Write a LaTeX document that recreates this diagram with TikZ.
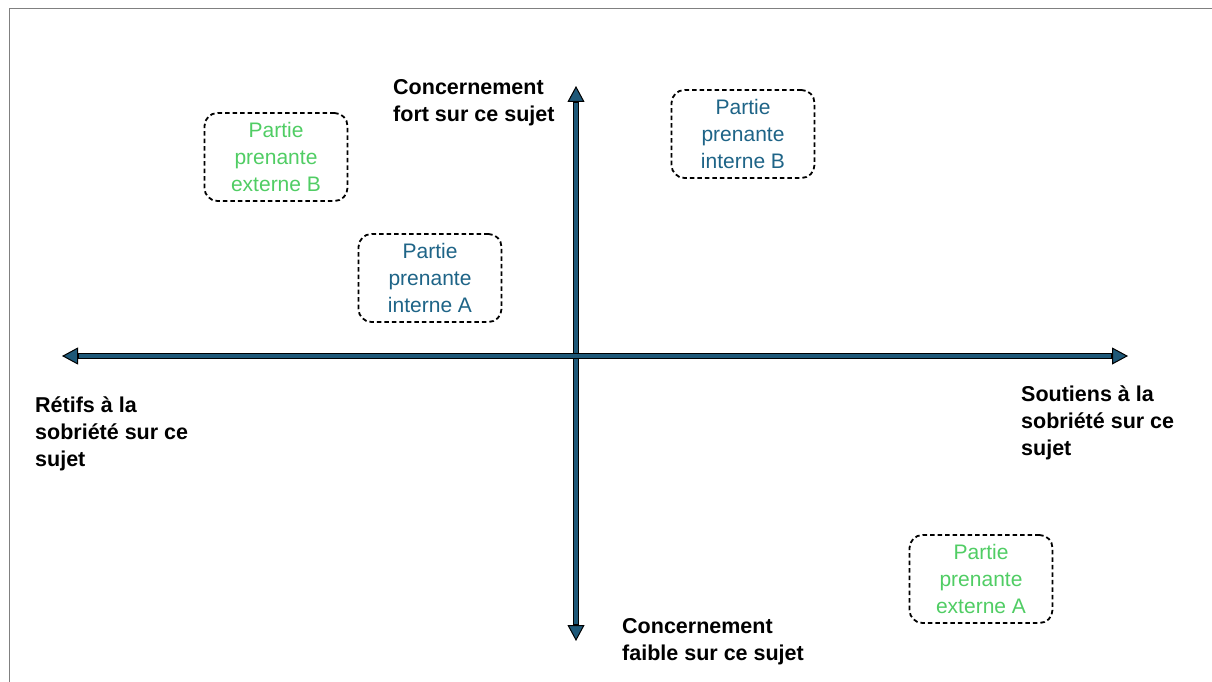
\documentclass[tikz,border=0pt]{standalone}
\usepackage{fontspec}
\setmainfont{Liberation Sans}
\usetikzlibrary{arrows.meta}
\definecolor{axisblue}{RGB}{30,88,120}
\definecolor{intblue}{RGB}{30,100,135}
\definecolor{extgreen}{RGB}{80,205,100}
\definecolor{framegrey}{RGB}{128,128,128}
\tikzset{
  party/.style={draw=black, dashed, dash pattern=on 4.5pt off 3pt, line width=1.8pt,
    rounded corners=13pt, minimum width=143pt, minimum height=88pt,
    align=center, inner sep=0pt, font={\fontsize{21}{27}\selectfont}},
  axislabel/.style={align=left, inner sep=0pt, anchor=west,
    font={\fontsize{21.5}{27}\selectfont\bfseries}},
  axisouter/.style={black, line width=6.5pt,
    {Triangle[length=16pt, width=17pt, line width=1pt, fill=axisblue]}-{Triangle[length=16pt, width=17pt, line width=1pt, fill=axisblue]}},
  axisinner/.style={axisblue, line width=4pt, shorten <=17pt, shorten >=17pt}
}
\begin{document}
\begin{tikzpicture}[x=1pt, y=-1pt]
\useasboundingbox (0,0) rectangle (1212,682);
\fill[white] (0,0) rectangle (1212,682);
% slide frame
\draw[framegrey, line width=1pt] (9,682) -- (9,9) -- (1212,9);
% axes coordinates
\coordinate (top) at (576,86);
\coordinate (bottom) at (576,641);
\coordinate (left) at (62,356);
\coordinate (right) at (1128,356);
\draw[axisouter] (top) -- (bottom);
\draw[axisinner] (top) -- (bottom);
\draw[axisouter] (left) -- (right);
\draw[axisinner] (left) -- (right);
% axis labels
\node[axislabel] (hi) at (393,103) {Concernement\\fort sur ce sujet};
\node[axislabel] (lo) at (622,642) {Concernement\\faible sur ce sujet};
\node[axislabel] (neg) at (35,434) {Rétifs à la\\sobriété sur ce\\sujet};
\node[axislabel] (pos) at (1021,423) {Soutiens à la\\sobriété sur ce\\sujet};
% stakeholders
\node[party, text=extgreen] (extB) at (276,157) {Partie\\prenante\\externe B};
\node[party, text=intblue] (intA) at (430,278) {Partie\\prenante\\interne A};
\node[party, text=intblue] (intB) at (743,134) {Partie\\prenante\\interne B};
\node[party, text=extgreen] (extA) at (981,579) {Partie\\prenante\\externe A};
\end{tikzpicture}
\end{document}
